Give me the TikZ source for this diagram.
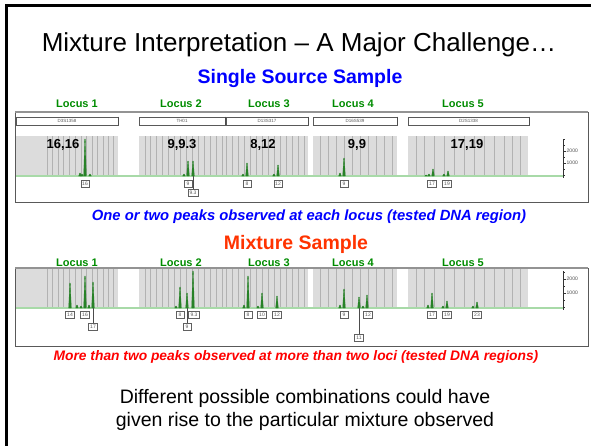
\documentclass[tikz,border=0pt]{standalone}
\usepackage{fontspec}
\setmainfont{Liberation Sans}
\definecolor{locgreen}{RGB}{0,140,0}
\definecolor{peakgreen}{RGB}{40,130,40}
\definecolor{baseline}{RGB}{168,218,168}
\definecolor{bingray}{RGB}{220,220,220}
\definecolor{binline}{RGB}{178,178,178}
\definecolor{titleblue}{RGB}{0,0,255}
\definecolor{mixred}{RGB}{255,51,0}
\definecolor{notered}{RGB}{255,0,0}
\begin{document}
\begin{tikzpicture}[x=1pt,y=-1pt,
  locus/.style={text=locgreen,font=\bfseries\fontsize{11}{12}\selectfont},
  geno/.style={font=\bfseries\fontsize{13}{14}\selectfont},
  marker/.style={draw=gray!70!black,fill=white,line width=0.7pt,inner sep=0pt,
    minimum height=8pt,text=gray!70!black,font=\fontsize{4.5}{5}\selectfont},
  markshade/.style={draw=black!70,line width=1.2pt},
  allele/.style={draw=gray!75!black,fill=white,line width=0.7pt,inner sep=0.6pt,
    minimum width=8pt,minimum height=7.5pt,text=gray!70!black,font=\fontsize{5}{5}\selectfont},
  leader/.style={draw=gray!60!black,line width=0.5pt},
  panel/.style={draw=gray!70!black,line width=0.7pt},
  panetop/.style={draw=gray!85,line width=2.2pt},
  bin/.style={draw=binline,line width=0.6pt},
  base/.style={draw=baseline,line width=1.2pt},
  peak/.style={fill=peakgreen,draw=peakgreen,line width=0.3pt},
  axis/.style={draw=black!80,line width=0.6pt},
  axlab/.style={font=\fontsize{5}{5}\selectfont,text=black!70,anchor=west,inner sep=0.5pt}
]
\useasboundingbox (0,0) rectangle (591,445);

% slide frame
\draw[line width=2.5pt] (6.5,446) -- (6.5,5.5) -- (592,5.5);

% headings
\node[font=\fontsize{26}{30}\selectfont] (title) at (299,45)
  {Mixture Interpretation – A Major Challenge…};
\node[font=\bfseries\fontsize{19.5}{22}\selectfont,text=titleblue] (single) at (300,78)
  {Single Source Sample};

% ---------- single source electropherogram ----------
\foreach \lx/\ln in {77/1,181/2,269/3,353/4,463/5}
  \node[locus] (sl\ln) at (\lx,104) {Locus \ln};
\fill[white] (15,112) rectangle (588,202);
\foreach \a/\b in {16/118,139/308,313/397,408/528}
  \fill[bingray] (\a,136) rectangle (\b,176);
\foreach \x in {47,52,58,63,69,75,81,86,92,97,103,108,113,
                145,150,156,162,168,174,180,186,192,198,204,210,216,222,226,
                232,238,244,250,256,262,268,274,280,286,292,298,304,
                320,328,336,344,352,360,368,376,384,392,
                416,424,434,444,454,464,474,484,494,504,512,520}
  \draw[bin] (\x,136) -- (\x,176);
\draw[base] (16,176) -- (563,176);
\draw[panel] (15,112) rectangle (588,202);
\draw[panetop] (15,112) -- (588,112);
\node[marker,minimum width=102pt] (sm1) at (67,121) {D3S1358};
\node[marker,minimum width=86pt]  (sm2) at (182,121) {TH01};
\node[marker,minimum width=82pt]  (sm3) at (267,121) {D13S317};
\node[marker,minimum width=84pt]  (sm4) at (355,121) {D16S539};
\node[marker,minimum width=121pt] (sm5) at (468.5,121) {D2S1338};
\foreach \m in {sm1,sm2,sm3,sm4,sm5}
  \draw[markshade] (\m.north east) -- (\m.south east);
\node[geno] (sg1) at (63,145) {16,16};
\node[geno] (sg2) at (182,145) {9,9.3};
\node[geno] (sg3) at (263,145) {8,12};
\node[geno] (sg4) at (357,145) {9,9};
\node[geno] (sg5) at (467,145) {17,19};
% peaks: position / height
\foreach \x/\t in {85/139,188/161,193/161,247/163,278/165,344/158,433/169,448/171,
                   80/173,82/174,90/174,184/174,243/174,274/174,340/173,429/174,444/174,426/175}
  \fill[peak] (\x-1.3,176) -- (\x-0.3,\t) -- (\x+0.3,\t) -- (\x+1.3,176) -- cycle;
% allele calls
\node[allele] (sa1)  at (85,184)  {16};
\node[allele] (sa2)  at (188,184) {9};
\node[allele,minimum width=10pt] (sa3) at (193,193) {9.3};
\node[allele] (sa4)  at (247,184) {8};
\node[allele] (sa5)  at (278,184) {12};
\node[allele] (sa6)  at (344,184) {9};
\node[allele,minimum width=9pt] (sa7)  at (432,184) {17};
\node[allele,minimum width=9pt] (sa8)  at (447,184) {19};
\coordinate (sf3) at (193,176);
\draw[leader] (sf3) -- (sa3.north);
% intensity scale
\draw[axis] (563,139) -- (563,178);
\foreach \y in {139,145,157,169,175}
  \draw[axis] (563,\y) -- (564.5,\y);
\foreach \y/\v in {151/2000,163/1000}{
  \draw[axis] (563,\y) -- (566,\y);
  \node[axlab] at (566,\y) {\v};}

\node[font=\bfseries\itshape\fontsize{14.8}{17}\selectfont,text=titleblue] (note1) at (309,217)
  {One or two peaks observed at each locus (tested DNA region)};
\node[font=\bfseries\fontsize{19.5}{22}\selectfont,text=mixred] (mix) at (296,244)
  {Mixture Sample};

% ---------- mixture electropherogram ----------
\foreach \lx/\ln in {77/1,181/2,269/3,353/4,463/5}
  \node[locus] (ml\ln) at (\lx,263) {Locus \ln};
\fill[white] (15,268) rectangle (588,346);
\foreach \a/\b in {16/118,139/308,313/397,408/528}
  \fill[bingray] (\a,268) rectangle (\b,308);
\foreach \x in {47,52,58,63,69,75,81,86,92,97,103,108,113,
                145,150,156,162,168,174,180,186,192,198,204,210,216,222,226,
                232,238,244,250,256,262,268,274,280,286,292,298,304,
                320,328,336,344,352,360,368,376,384,392,
                416,424,434,444,454,464,474,484,494,504,512,520}
  \draw[bin] (\x,268) -- (\x,308);
\draw[base] (16,308) -- (563,308);
\draw[panel] (15,268) rectangle (588,346);
\draw[panetop] (15,268) -- (588,268);
\foreach \x/\t in {70/283,85/276,93/282,180/287,187/293,193/271,248/276,262/293,277/296,
                   344/289,359/297,367/295,432/293,447/301,477/302,
                   77/305,81/306,89/305,176/306,244/305,258/306,340/305,363/306,428/305,443/306,473/306}
  \fill[peak] (\x-1.3,308) -- (\x-0.3,\t) -- (\x+0.3,\t) -- (\x+1.3,308) -- cycle;
\node[allele,minimum width=9pt] (ma1) at (70,315) {14};
\node[allele,minimum width=9pt] (ma2) at (85,315) {16};
\node[allele,minimum width=9pt] (ma3) at (93,327) {17};
\node[allele] (ma4) at (180,315) {8};
\node[allele,minimum width=11pt] (ma5) at (194,315) {9.3};
\node[allele] (ma6) at (187,327) {9};
\node[allele] (ma7) at (248,315) {8};
\node[allele,minimum width=9pt] (ma8) at (262,315) {10};
\node[allele,minimum width=9pt] (ma9) at (277,315) {12};
\node[allele] (ma10) at (344,315) {9};
\node[allele,minimum width=9pt] (ma11) at (368,315) {12};
\node[allele,minimum width=9pt] (ma12) at (359,338) {11};
\node[allele,minimum width=9pt] (ma13) at (432,315) {17};
\node[allele,minimum width=9pt] (ma14) at (447,315) {19};
\node[allele,minimum width=9pt] (ma15) at (477,315) {23};
\coordinate (mf3) at (93,308);
\coordinate (mf6) at (187,308);
\coordinate (mf12) at (359,308);
\draw[leader] (mf3) -- (ma3.north);
\draw[leader] (mf6) -- (ma6.north);
\draw[leader] (mf12) -- (ma12.north);
\draw[axis] (563,271) -- (563,310);
\foreach \y in {272,286,300,307}
  \draw[axis] (563,\y) -- (564.5,\y);
\foreach \y/\v in {279/2000,293/1000}{
  \draw[axis] (563,\y) -- (566,\y);
  \node[axlab] at (566,\y) {\v};}

\node[font=\bfseries\itshape\fontsize{13.8}{16}\selectfont,text=notered] (note2) at (296,357)
  {More than two peaks observed at more than two loci (tested DNA regions)};

\node[font=\fontsize{19.5}{23}\selectfont,align=center] (concl) at (305,410)
  {Different possible combinations could have\\given rise to the particular mixture observed};
\end{tikzpicture}
\end{document}
